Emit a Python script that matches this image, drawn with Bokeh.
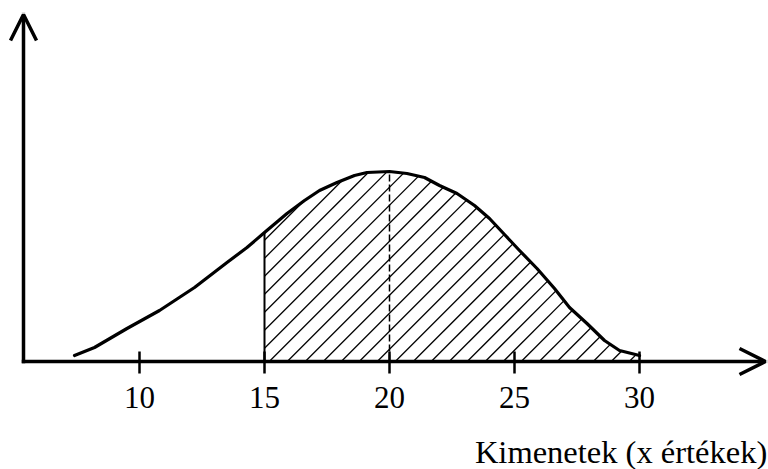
import numpy as np
from bokeh.plotting import figure
from bokeh.models import Arrow, OpenHead, Range1d
from bokeh.core.properties import value
from bokeh.embed import file_html
from bokeh.resources import INLINE

# ---- data ----
curve_x = [7.4, 8.2, 9.5, 10.8, 12.2, 13.5, 14.3, 15.0, 15.9, 16.6, 17.2, 17.9, 18.6, 19.1,
           20.0, 20.7, 21.4, 22.0, 22.7, 23.4, 24.0, 24.6, 25.2, 25.9, 26.6, 27.2, 27.9,
           28.6, 29.2, 30.0]
curve_y = [0.0024, 0.0056, 0.0132, 0.0204, 0.0296, 0.0396, 0.0456, 0.0516, 0.0592, 0.0644,
           0.0684, 0.0716, 0.0744, 0.0756, 0.0760, 0.0752, 0.0736, 0.0704, 0.0672, 0.0624,
           0.0572, 0.0508, 0.0444, 0.0372, 0.0292, 0.0216, 0.0152, 0.0084, 0.0044, 0.0024]
shade_from = 15.0
shade_to = 30.0
mean_x = 20.0
tick_values = [10, 15, 20, 25, 30]
tick_labels = ["10", "15", "20", "25", "30"]
x_title = "Kimenetek (x értékek)"

SERIF = value("Liberation Serif")

X0, X1 = 4.44, 35.16
Y0, Y1 = -0.0432, 0.1444
W, H = 768, 469

p = figure(width=W, height=H, output_backend="svg", toolbar_location=None,
           x_range=Range1d(X0, X1), y_range=Range1d(Y0, Y1),
           min_border=0, background_fill_color="white", border_fill_color="white")
p.axis.visible = False
p.grid.visible = False
p.outline_line_color = None

# ---- 45 degree (screen) hatch lines, clipped to the area under the curve ----
cx = np.array(curve_x)
cy = np.array(curve_y)
slope = ((Y1 - Y0) / H) / ((X1 - X0) / W)   # data slope of a 45deg screen line
step = 18.0 * (X1 - X0) / W                   # hatch spacing (px -> data)
phase = 15.19                                  # where one hatch line meets the axis


def hit_curve(c, xs):
    """first x >= xs where line y=(x-c)*slope meets the curve"""
    for i in range(len(cx) - 1):
        xa, xb = cx[i], cx[i + 1]
        if xb < xs:
            continue
        xa = max(xa, xs)
        fa = np.interp(xa, cx, cy)
        fb = cy[i + 1]
        da = (xa - c) * slope - fa
        db = (xb - c) * slope - fb
        if da <= 0 <= db:
            t = 0 if db == da else -da / (db - da)
            return xa + t * (xb - xa)
    return None


hx0, hy0, hx1, hy1 = [], [], [], []
y_from = np.interp(shade_from, cx, cy)
c_min = shade_from - y_from / slope
k0 = int(np.floor((c_min - phase) / step))
k1 = int(np.ceil((shade_to - phase) / step))
for k in range(k0, k1 + 1):
    c = phase + k * step
    if c <= c_min or c >= shade_to:
        continue
    if c >= shade_from:
        xs, ys = c, 0.0
    else:
        xs, ys = shade_from, (shade_from - c) * slope
    xe = hit_curve(c, xs)
    if xe is not None and xe > xs:
        hx0.append(xs); hy0.append(ys); hx1.append(xe); hy1.append((xe - c) * slope)
p.segment(x0=hx0, y0=hy0, x1=hx1, y1=hy1, line_color="black", line_width=1.3)

# vertical solid line at the lower bound
y_at_from = curve_y[curve_x.index(shade_from)]
p.segment(x0=[shade_from], y0=[0], x1=[shade_from], y1=[y_at_from],
          line_color="black", line_width=2)
# dashed line at the mean
y_at_mean = curve_y[curve_x.index(mean_x)]
p.segment(x0=[mean_x], y0=[0], x1=[mean_x], y1=[y_at_mean],
          line_color="black", line_width=1.5, line_dash="7 3")

# curve
p.line(curve_x, curve_y, line_color="black", line_width=3.2, line_join="round", line_cap="round")

# axes with arrows
ax0 = 5.36
p.add_layout(Arrow(end=OpenHead(size=26, line_width=3.5, line_color="black"),
                   x_start=ax0, y_start=0, x_end=35.04, y_end=0,
                   line_width=3.5, line_color="black", line_cap="square"))
p.add_layout(Arrow(end=OpenHead(size=26, line_width=3.5, line_color="black"),
                   x_start=ax0, y_start=0, x_end=ax0, y_end=0.1388,
                   line_width=3.5, line_color="black", line_cap="square"))

# tick marks and labels
p.segment(x0=tick_values, y0=[0.004] * len(tick_values), x1=tick_values,
          y1=[-0.0048] * len(tick_values), line_color="black", line_width=2.5)
p.text(x=tick_values, y=[-0.0144] * len(tick_values), text=tick_labels,
       text_font=SERIF, text_font_size="31px", text_align="center",
       text_baseline="alphabetic", text_color="black")

# axis title
p.text(x=[35.11], y=[-0.0360], text=[x_title], text_font=SERIF, text_font_size="32.5px",
       text_align="right", text_baseline="alphabetic", text_color="black")

open("out.html", "w").write(file_html(p, INLINE))
